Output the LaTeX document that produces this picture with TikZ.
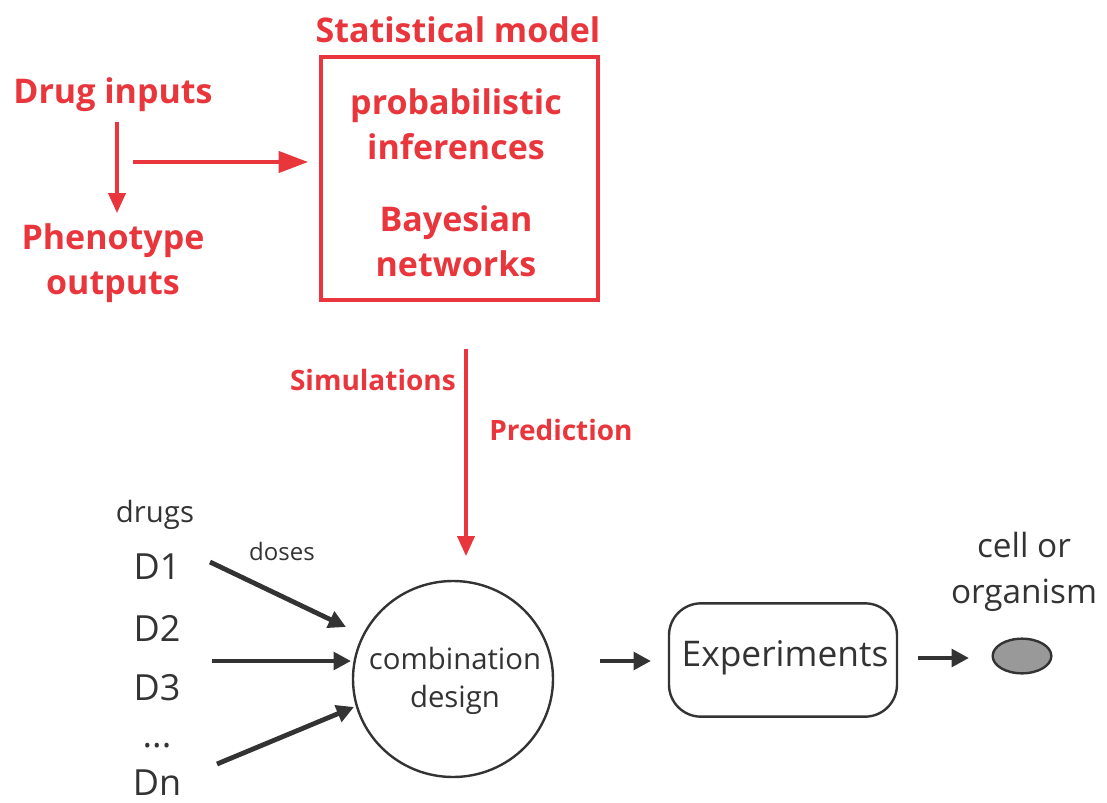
\documentclass[tikz,border=0pt]{standalone}
\usepackage{fontspec}
\setmainfont{Open Sans}
\usetikzlibrary{arrows.meta,shapes.geometric}
\definecolor{myred}{HTML}{E8363C}
\definecolor{mygray}{HTML}{333333}
\tikzset{
  redtxt/.style={text=myred,font=\bfseries\fontsize{25.5}{34}\selectfont,align=center,inner sep=0pt},
  redsmall/.style={text=myred,font=\bfseries\fontsize{21}{24}\selectfont,inner sep=0pt},
  graytxt/.style={text=mygray,font=\fontsize{22}{28.5}\selectfont,align=center,inner sep=0pt},
  dtxt/.style={graytxt,font=\fontsize{27}{30}\selectfont},
  redarrow/.style={draw=myred,line width=2.3pt,-{Triangle[length=15pt,width=13pt]}},
  redarrowbig/.style={draw=myred,line width=2.3pt,-{Triangle[length=22pt,width=16pt]}},
  blackarrow/.style={draw=mygray,line width=3.6pt,-{Triangle[length=13pt,width=13pt]}},
}
\begin{document}
\begin{tikzpicture}[x=0.75pt,y=-0.75pt]
\useasboundingbox (0,0) rectangle (1107,803);
% top part
\node[redtxt] (stat) at (458,30) {Statistical model};
\node[draw=myred,line width=3pt,minimum width=207.75pt,minimum height=182.25pt,inner sep=0pt] (box) at (459.5,178.5) {};
\node[redtxt] (prob) at (456,124) {probabilistic\\inferences};
\node[redtxt] (bayes) at (456,241) {Bayesian\\networks};
\node[redtxt] (drug) at (113,95) {Drug inputs};
\node[redtxt] (pheno) at (113,263) {Phenotype\\outputs};
\coordinate (a1s) at (117,122);
\coordinate (a1e) at (117,213);
\draw[redarrow] (a1s) -- (a1e);
\coordinate (a2s) at (133,162);
\coordinate (a2e) at (308,162);
\draw[redarrowbig] (a2s) -- (a2e);
% middle
\coordinate (a3s) at (466,349);
\coordinate (a3e) at (466,556);
\draw[redarrow] (a3s) -- (a3e);
\node[redsmall,anchor=east] (sim) at (456,380) {Simulations};
\node[redsmall,anchor=west] (pred) at (489,430) {Prediction};
% bottom
\node[draw=mygray,line width=1.8pt,ellipse,minimum width=150pt,minimum height=147pt,inner sep=0pt] (comb) at (453,679) {};
\node[graytxt] (combt) at (455,681) {combination\\design};
\node[graytxt] (drugs) at (155,515) {drugs};
\node[graytxt,font=\fontsize{18}{20}\selectfont] (doses) at (282,551) {doses};
\node[dtxt] (d1) at (157,567) {D1};
\node[dtxt] (d2) at (157,628) {D2};
\node[dtxt] (d3) at (157,688) {D3};
\node[dtxt] (dd) at (157,746) {...};
\node[dtxt] (dn) at (157,783) {Dn};
\coordinate (b1s) at (210,562);
\coordinate (b1e) at (346,627);
\draw[blackarrow] (b1s) -- (b1e);
\coordinate (b2s) at (212,661);
\coordinate (b2e) at (351,661);
\draw[blackarrow] (b2s) -- (b2e);
\coordinate (b3s) at (217,764);
\coordinate (b3e) at (354,707);
\draw[blackarrow] (b3s) -- (b3e);
\node[draw=mygray,line width=1.8pt,rounded corners=24pt,minimum width=171pt,minimum height=85pt,inner sep=0pt] (exp) at (783,660) {};
\node[graytxt,font=\fontsize{26.5}{30}\selectfont] (expt) at (785,658) {Experiments};
\coordinate (c1s) at (600,661);
\coordinate (c1e) at (651,661);
\draw[blackarrow] (c1s) -- (c1e);
\coordinate (c2s) at (918,658);
\coordinate (c2e) at (969,658);
\draw[blackarrow] (c2s) -- (c2e);
\node[draw=mygray,line width=1.8pt,fill=black!40,ellipse,minimum width=44pt,minimum height=26pt,inner sep=0pt] (cell) at (1022,656) {};
\node[graytxt,font=\fontsize{25}{35}\selectfont] (cellt) at (1024,572) {cell or\\organism};
\end{tikzpicture}
\end{document}
